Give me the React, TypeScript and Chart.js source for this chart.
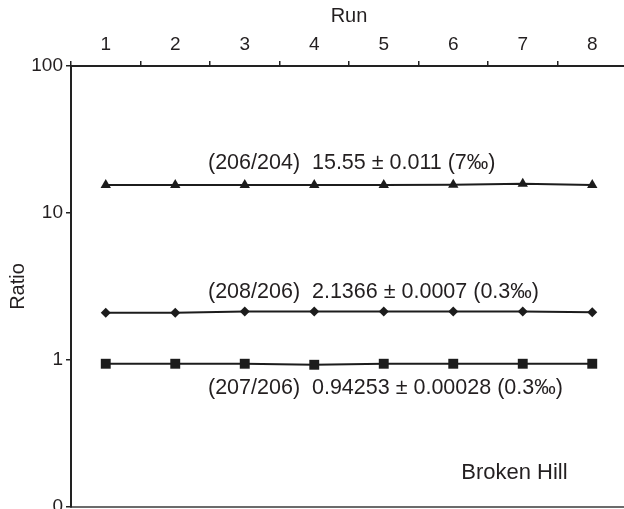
import React, { useEffect, useRef } from "react";
import { Chart, registerables } from "chart.js";

Chart.register(...registerables);

// Run numbers along the top axis
const runs = ["1", "2", "3", "4", "5", "6", "7", "8"];

// Measured isotope ratios per run
const ratio206_204 = [15.5, 15.5, 15.52, 15.52, 15.52, 15.55, 15.8, 15.52];
const ratio208_206 = [2.1, 2.1, 2.14, 2.14, 2.14, 2.14, 2.14, 2.11];
const ratio207_206 = [0.943, 0.943, 0.943, 0.928, 0.943, 0.943, 0.943, 0.943];

// Log axis ticks and their printed labels
const yTickValues = [0.1, 1, 10, 100];
const yTickLabels = ["0", "1", "10", "100"];

// Summary text for each ratio
const summary206_204 = "(206/204)  15.55 ± 0.011 (7‰)";
const summary208_206 = "(208/206)  2.1366 ± 0.0007 (0.3‰)";
const summary207_206 = "(207/206)  0.94253 ± 0.00028 (0.3‰)";
const sampleName = "Broken Hill";

const FONT = '"Liberation Sans", Arial, Helvetica, sans-serif';
const INK = "#231f20";

const CANVAS_W = 660;
const CANVAS_H = 540;

const annotations = {
  id: "ratioAnnotations",
  afterDatasetsDraw(chart: any) {
    const { ctx, scales, chartArea } = chart;
    const x = scales.x;
    const y = scales.y;
    const left = (x.getPixelForValue(1) + x.getPixelForValue(2)) / 2 - 2;
    ctx.save();
    ctx.fillStyle = INK;
    ctx.font = `21.5px ${FONT}`;
    ctx.textAlign = "left";
    ctx.textBaseline = "middle";
    ctx.fillText(summary206_204, left, y.getPixelForValue(15.55) - 22);
    ctx.fillText(summary208_206, left, y.getPixelForValue(2.1366) - 19);
    ctx.fillText(summary207_206, left, y.getPixelForValue(0.94253) + 24);
    ctx.font = `22px ${FONT}`;
    const nameX = x.getPixelForValue(5) + 8;
    ctx.fillText(sampleName, nameX, chartArea.bottom - 34);
    ctx.restore();
  },
};

export default function App() {
  const canvasRef = useRef<HTMLCanvasElement | null>(null);

  useEffect(() => {
    if (!canvasRef.current) return;
    const series = (data: number[], pointStyle: string, radius: number) => ({
      data,
      pointStyle,
      pointRadius: radius,
      pointHoverRadius: radius,
      pointBackgroundColor: "#1c1c1c",
      pointBorderColor: "#1c1c1c",
      pointBorderWidth: 0,
      borderColor: "#1c1c1c",
      borderWidth: 2,
      tension: 0,
      fill: false,
      clip: false as any,
    });

    const chart = new Chart(canvasRef.current, {
      type: "line",
      data: {
        labels: runs,
        datasets: [
          series(ratio206_204, "triangle", 6),
          series(ratio208_206, "rectRot", 5),
          series(ratio207_206, "rect", 7),
        ],
      },
      options: {
        responsive: false,
        animation: false,
        devicePixelRatio: 1,
        layout: { padding: { left: 0, top: 0, right: CANVAS_W - 627, bottom: CANVAS_H - 507 } },
        plugins: {
          legend: { display: false },
          tooltip: { enabled: false },
        },
        scales: {
          x: {
            type: "category",
            position: "top",
            offset: true,
            grid: {
              offset: true,
              drawOnChartArea: false,
              drawTicks: true,
              tickLength: 5,
              color: "#222",
              lineWidth: 1.5,
            },
            border: { display: true, color: "#222", width: 2 },
            ticks: {
              color: INK,
              font: { family: FONT, size: 19 },
              padding: 5,
              maxRotation: 0,
              autoSkip: false,
            },
            title: {
              display: true,
              text: "Run",
              color: INK,
              font: { family: FONT, size: 20 },
              padding: { top: 4, bottom: 0 },
            },
            afterFit(s: any) {
              s.height = 66;
            },
          },
          xb: {
            type: "category",
            position: "bottom",
            offset: true,
            grid: { display: false },
            ticks: { display: false },
            border: { display: true, color: "#6b6b6b", width: 2 },
            afterFit(s: any) {
              s.height = 0;
            },
          },
          y: {
            type: "logarithmic",
            min: 0.1,
            max: 100,
            afterBuildTicks(s: any) {
              s.ticks = yTickValues.map((value) => ({ value }));
            },
            grid: {
              drawOnChartArea: false,
              drawTicks: true,
              tickLength: 5,
              color: "#222",
              lineWidth: 1.5,
            },
            border: { display: true, color: "#222", width: 2 },
            ticks: {
              color: INK,
              font: { family: FONT, size: 19 },
              padding: 3,
              autoSkip: false,
              callback: (v: any) => {
                const i = yTickValues.findIndex((t) => Math.abs(t - Number(v)) < 1e-9);
                return i >= 0 ? yTickLabels[i] : "";
              },
            },
            title: {
              display: true,
              text: "Ratio",
              color: INK,
              font: { family: FONT, size: 20 },
              padding: { top: 6, bottom: 0 },
            },
            afterFit(s: any) {
              s.width = 71;
            },
          },
        },
      },
      plugins: [annotations],
    });

    return () => chart.destroy();
  }, []);

  return (
    <div
      style={{
        position: "fixed",
        left: 0,
        top: 0,
        width: 624,
        height: 509,
        overflow: "hidden",
        background: "#fff",
      }}
    >
      <canvas
        ref={canvasRef}
        width={CANVAS_W}
        height={CANVAS_H}
        style={{ width: CANVAS_W, height: CANVAS_H, display: "block" }}
      />
    </div>
  );
}
